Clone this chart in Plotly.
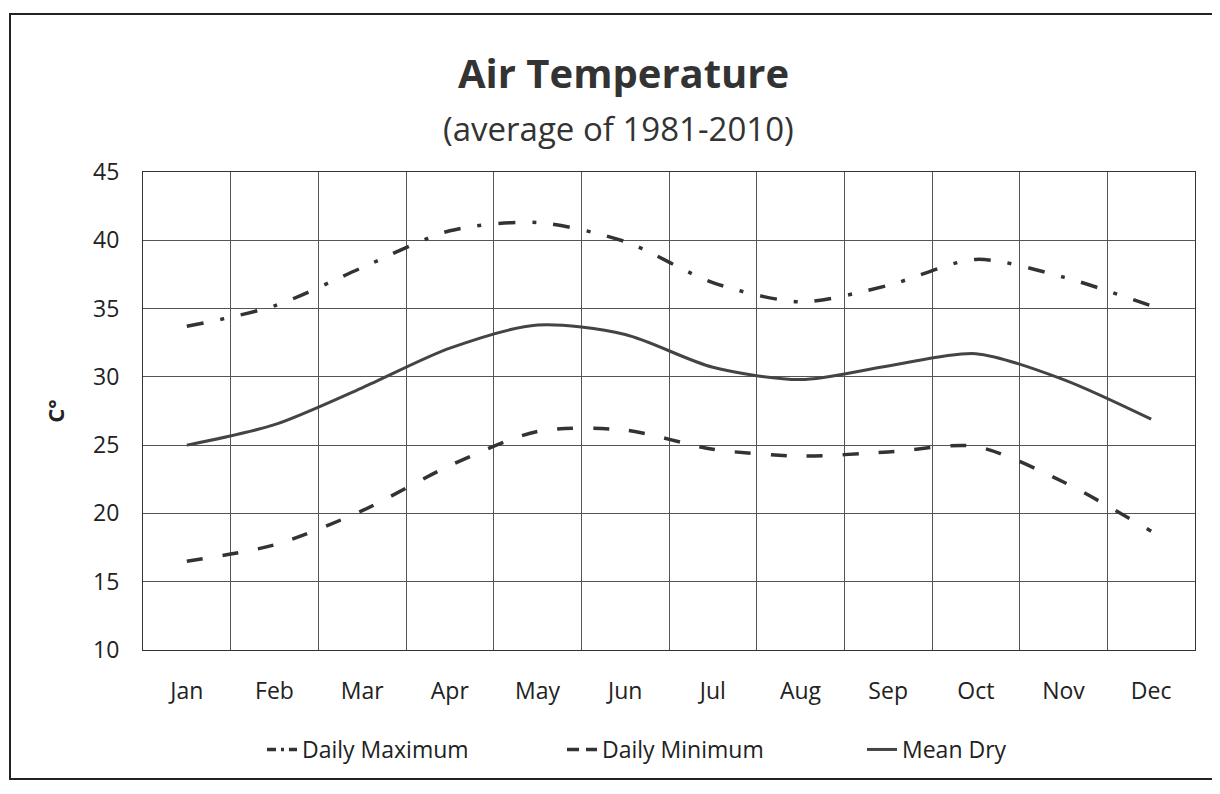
import plotly.graph_objects as go

months = ["Jan", "Feb", "Mar", "Apr", "May", "Jun", "Jul", "Aug", "Sep", "Oct", "Nov", "Dec"]
daily_max = [33.7, 35.2, 38.0, 40.7, 41.3, 39.9, 36.9, 35.5, 36.7, 38.6, 37.3, 35.2]
daily_min = [16.5, 17.7, 20.2, 23.5, 26.0, 26.1, 24.7, 24.2, 24.5, 24.9, 22.3, 18.7]
mean_dry = [25.0, 26.5, 29.2, 32.1, 33.8, 33.1, 30.7, 29.8, 30.8, 31.7, 29.8, 26.9]
series_names = ["Daily Maximum", "Daily Minimum", "Mean Dry"]
y_ticks = [10, 15, 20, 25, 30, 35, 40, 45]

FONT = "Open Sans"
INK = "#333333"
TXT = "#222222"

styles = [
    dict(color=INK, width=3.5, dash="17px,17px,4px,17px"),
    dict(color=INK, width=3.5, dash="16px,20px"),
    dict(color="#444444", width=3, dash="solid"),
]
legend_dash = ["9px,5px,3px,5px", "12px,7px", "solid"]

fig = go.Figure()
for name, vals, st in zip(series_names, [daily_max, daily_min, mean_dry], styles):
    fig.add_trace(go.Scatter(
        x=months, y=vals, name=name, mode="lines", legendgroup=name, showlegend=False,
        line=dict(color=st["color"], width=st["width"], dash=st["dash"], shape="spline", smoothing=0.8),
    ))
# legend entries with dash patterns scaled to the legend swatch
for name, st, ld in zip(series_names, styles, legend_dash):
    fig.add_trace(go.Scatter(
        x=[None], y=[None], name=name, mode="lines", legendgroup=name, showlegend=True,
        line=dict(color=st["color"], width=st["width"], dash=ld),
    ))

# page is rendered with an 8px body margin
OFF = 8
W, H = 1220 - OFF, 794 - OFF
L = 143 - OFF
T = 172 - OFF
R = 1220 - 1195
B = 794 - 650
pw, ph = W - L - R, H - T - B

def px_to_paper_x(px):
    return (px - OFF - L) / pw

def px_to_paper_y(py):
    return (H - B - (py - OFF)) / ph

fig.update_layout(
    width=W, height=H,
    margin=dict(l=L, r=R, t=T, b=B),
    paper_bgcolor="white", plot_bgcolor="white",
    font=dict(family=FONT, color=TXT, size=22),
    showlegend=True,
    legend=dict(
        orientation="h", x=px_to_paper_x(262), xanchor="left",
        y=px_to_paper_y(728), yanchor="top",
        font=dict(size=23, family=FONT, color=TXT),
        entrywidth=255, entrywidthmode="pixels",
        bgcolor="rgba(0,0,0,0)",
    ),
    annotations=[
        dict(text="<b>Air Temperature</b>", x=px_to_paper_x(623), y=px_to_paper_y(72),
             xref="paper", yref="paper", showarrow=False, xanchor="center", yanchor="middle",
             font=dict(size=40, family=FONT, color="#333333")),
        dict(text="(average of 1981-2010)", x=px_to_paper_x(618), y=px_to_paper_y(128),
             xref="paper", yref="paper", showarrow=False, xanchor="center", yanchor="middle",
             font=dict(size=33, family=FONT, color="#333333")),
    ],
    shapes=[
        dict(type="rect", xref="paper", yref="paper",
             x0=px_to_paper_x(10), x1=px_to_paper_x(1214),
             y0=px_to_paper_y(779), y1=px_to_paper_y(14),
             line=dict(color="#222222", width=2), fillcolor="rgba(0,0,0,0)", layer="below"),
    ],
)

fig.update_xaxes(
    type="category", range=[-0.5, 11.5], tickson="boundaries",
    showgrid=True, gridcolor="#555555", gridwidth=1,
    showline=True, linecolor="#333333", linewidth=1, mirror=True,
    ticks="", ticklabelstandoff=20,
    tickfont=dict(size=23, family=FONT, color=TXT),
)
fig.update_yaxes(
    range=[10, 45], tickvals=y_ticks,
    showgrid=True, gridcolor="#555555", gridwidth=1,
    showline=True, linecolor="#333333", linewidth=1, mirror=True,
    ticks="", ticklabelstandoff=18, zeroline=False,
    tickfont=dict(size=23, family=FONT, color=TXT),
    title=dict(text="<b>C°</b>", standoff=22, font=dict(size=22, family=FONT, color=TXT)),
)

fig.write_html("out.html")
